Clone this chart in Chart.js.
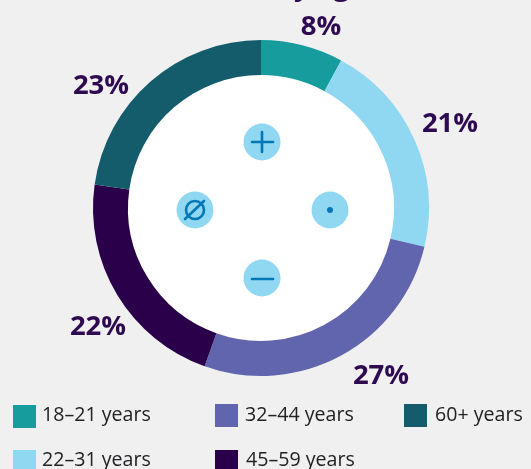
<!DOCTYPE html>
<html><head><meta charset="utf-8">
<style>html,body{margin:0;padding:0;background:#f0f0f0;overflow:hidden}canvas{display:block}#w{width:531px;height:469px;position:relative}</style>
<script src="https://cdn.jsdelivr.net/npm/chart.js@4"></script>
</head><body><div id="w"><canvas id="c" width="531" height="469"></canvas></div>
<script>
const categories = ["18–21 years","22–31 years","32–44 years","45–59 years","60+ years"];
const shares = [8,21,27,22,23];
const colors = ["#169c9c","#90d8f2","#6065ae","#2a004b","#145c6c"];
const labelSpots = [[321,27],[450,124],[381,376],[98,327],[101,86]];
const legendSpots = [[13,405,42,421],[13,450,42,465.5],[215,404,245,421],[215,450,246,465.5],[404,404,435,421]];
const FONT = '"Open Sans","Noto Sans",sans-serif';
const INK = "#2e0a50", ICON = "#0077b6", DISC = "#90d8f2";
const hole = {id:"hole", beforeDatasetsDraw(ch){
  const a = ch.getDatasetMeta(0).data[0], x = ch.ctx;
  x.save(); x.fillStyle="#ffffff"; x.beginPath(); x.arc(a.x,a.y,a.innerRadius+0.5,0,7); x.fill(); x.restore();
}};
const decor = {id:"decor", afterDraw(ch){
  const x = ch.ctx; x.save();
  x.textBaseline="alphabetic"; x.textAlign="center"; x.fillStyle=INK;
  x.font='700 27.5px '+FONT; x.fillText("by age",321,-4);
  x.textBaseline="middle";
  shares.forEach((v,i)=>x.fillText(v+"%",labelSpots[i][0],labelSpots[i][1]));
  x.textBaseline="alphabetic"; x.textAlign="left"; x.font='400 19.6px '+FONT;
  categories.forEach((c,i)=>{const s=legendSpots[i];
    x.fillStyle=colors[i]; x.fillRect(s[0],s[1],23,23);
    x.fillStyle="#222226"; x.fillText(c,s[2],s[3]);});
  const disc=(a,b)=>{x.fillStyle=DISC;x.beginPath();x.arc(a,b,18.5,0,7);x.fill();};
  x.strokeStyle=ICON;x.lineWidth=2.6;x.lineCap="round";
  const ln=(a,b,c,d)=>{x.beginPath();x.moveTo(a,b);x.lineTo(c,d);x.stroke();};
  disc(262,142);ln(252,142,273,142);ln(262,132,262,152);
  disc(262,278);ln(252,279,273,279);
  disc(195,210);x.beginPath();x.arc(195,210,9,0,7);x.stroke();ln(185,219,204,201);
  disc(330,210);x.fillStyle=ICON;x.beginPath();x.arc(330,210,3,0,7);x.fill();
  x.restore();
}};
new Chart(document.getElementById("c"),{
  type:"doughnut",
  data:{labels:categories,datasets:[{data:shares,backgroundColor:colors,borderWidth:0}]},
  options:{responsive:false,animation:false,cutout:133,
    layout:{padding:{left:93,top:40,right:102,bottom:93}},
    plugins:{legend:{display:false},tooltip:{enabled:false}}},
  plugins:[hole,decor]
});
</script></body></html>
